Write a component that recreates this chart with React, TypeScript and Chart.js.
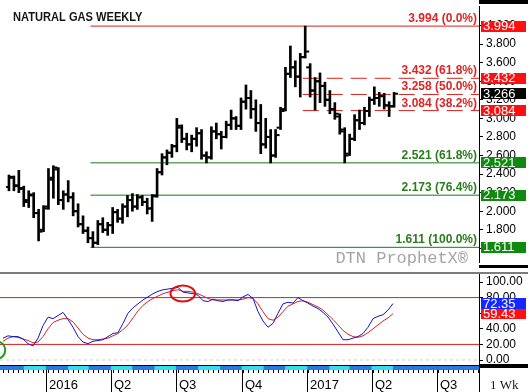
import React, { useEffect, useRef } from "react";
import { Chart, registerables } from "chart.js";

Chart.register(...registerables);
Chart.defaults.font.family = '"Liberation Sans", Arial, sans-serif';

// ---------- time axis: days counted from 1 Jan 2016, one bar per week ----------
const FIRST_BAR_DAY = -60; // week of 2 Nov 2015
const X_MIN = -64.2;
const X_MAX = 606.4;
const quarterDays = [0, 91, 182, 274, 366, 456, 547];
const quarterLabels = ["2016", "Q2", "Q3", "Q4", "2017", "Q2", "Q3"];
const evenMonthStart = [-31, 31, 91, 152, 213, 274, 335, 397, 456];
const evenMonthEnd = [0, 60, 121, 182, 244, 305, 366, 425, 486];

// ---------- weekly OHLC, Nov 2015 .. Apr 2017 ----------
const opens = [
  2.26, 2.36, 2.28, 2.24, 2.12, 2.17, 1.98, 1.8, 2.05,
  2.36, 2.45, 2.12, 2.18, 2.15, 2.0, 1.86, 1.79, 1.71, 1.66,
  1.86, 1.8, 1.85, 1.99, 1.92, 2.05, 2.12, 2.05, 2.15, 2.1,
  2.03, 2.17, 2.42, 2.58, 2.63, 2.7, 2.9, 2.78, 2.72, 2.78,
  2.84, 2.6, 2.58, 2.86, 2.83, 2.8, 2.93, 3.0, 2.92, 3.18,
  3.22, 3.1, 2.95, 2.72, 2.8, 2.6, 2.9, 3.1, 3.48, 3.55,
  3.45, 3.66, 3.55, 3.3, 3.4, 3.35, 3.2, 3.1, 3.02, 2.86,
  2.62, 2.78, 2.98, 2.95, 3.08, 3.2, 3.22, 3.24, 3.14, 3.13,
];
const highs = [
  2.39, 2.38, 2.44, 2.27, 2.22, 2.2, 2.02, 2.06, 2.46,
  2.49, 2.47, 2.22, 2.33, 2.2, 2.08, 1.95, 1.83, 1.78, 1.9,
  1.93, 1.88, 2.04, 2.02, 2.08, 2.17, 2.19, 2.18, 2.17, 2.14,
  2.18, 2.46, 2.62, 2.66, 2.72, 3.0, 2.93, 2.84, 2.82, 2.9,
  2.88, 2.64, 2.91, 2.95, 2.86, 2.97, 3.09, 3.02, 3.22, 3.36,
  3.3, 3.2, 3.15, 3.0, 2.88, 2.88, 3.12, 3.55, 3.78, 3.62,
  3.7, 3.994, 3.59, 3.44, 3.49, 3.39, 3.3, 3.17, 3.05, 2.9,
  2.83, 3.04, 3.09, 3.12, 3.23, 3.34, 3.28, 3.27, 3.18, 3.28,
];
const lows = [
  2.22, 2.22, 2.2, 2.05, 2.04, 1.93, 1.68, 1.78, 2.02,
  2.14, 2.07, 2.02, 2.1, 1.95, 1.83, 1.76, 1.66, 1.611, 1.64,
  1.77, 1.74, 1.76, 1.88, 1.87, 1.94, 2.0, 2.02, 2.06, 1.97,
  1.89, 2.15, 2.39, 2.5, 2.58, 2.64, 2.74, 2.66, 2.64, 2.7,
  2.56, 2.52, 2.56, 2.78, 2.67, 2.79, 2.88, 2.88, 2.88, 3.1,
  3.0, 2.86, 2.62, 2.68, 2.52, 2.58, 2.88, 3.08, 3.44, 3.34,
  3.23, 3.65, 3.23, 3.09, 3.17, 3.13, 3.05, 2.99, 2.83, 2.52,
  2.6, 2.76, 2.88, 2.93, 3.02, 3.15, 3.13, 3.1, 3.02, 3.12,
];
const closes = [
  2.37, 2.27, 2.25, 2.1, 2.18, 1.98, 1.78, 2.03, 2.34,
  2.47, 2.12, 2.18, 2.15, 2.0, 1.86, 1.79, 1.71, 1.66, 1.86,
  1.8, 1.85, 1.99, 1.92, 2.05, 2.12, 2.05, 2.15, 2.1, 2.03,
  2.16, 2.42, 2.58, 2.63, 2.7, 2.92, 2.78, 2.72, 2.78, 2.84,
  2.6, 2.58, 2.86, 2.83, 2.8, 2.93, 3.0, 2.92, 3.18, 3.22,
  3.1, 2.95, 2.72, 2.8, 2.6, 2.82, 3.08, 3.48, 3.55, 3.45,
  3.66, 3.72, 3.3, 3.4, 3.35, 3.2, 3.1, 3.05, 2.88, 2.6,
  2.78, 2.98, 2.95, 3.08, 3.2, 3.22, 3.24, 3.14, 3.13, 3.266,
];

// ---------- slow stochastics ----------
const stochK = [
  28, 31, 30, 30, 27, 21, 18, 28, 44,
  55, 53, 57, 61, 52, 42, 30, 23, 21, 24,
  25, 26, 30, 34, 35, 47, 60, 67, 72, 77,
  81, 85, 88, 90, 91, 92, 93, 87, 86, 85,
  83, 76, 75, 78, 76, 75, 77, 77, 76, 81,
  84, 79, 62, 50, 42, 47, 60, 72, 74, 73,
  80, 76, 73, 69, 66, 61, 55, 46, 36, 26,
  26, 28, 30, 34, 42, 53, 56, 58, 64, 72.35,
];
const stochD = [
  24, 28, 30, 29, 27, 25, 22, 23, 30,
  40, 48, 51, 53, 53, 49, 41, 33, 28, 26,
  26, 27, 28, 31, 34, 39, 45, 54, 63, 70,
  75, 79, 82, 85, 87, 89, 90, 88, 88, 87,
  85, 82, 79, 77, 77, 77, 77, 77, 77, 78,
  80, 79, 72, 62, 53, 51, 55, 62, 69, 72,
  75, 76, 74, 71, 68, 64, 58, 52, 45, 38,
  33, 30, 29, 31, 35, 40, 45, 50, 54, 59.43,
];

// ---------- axes ----------
const PRICE_MIN = 1.4529;
const PRICE_MAX = 4.2108;
const priceTicks = [1.6, 1.8, 2.0, 2.2, 2.4, 2.6, 2.8, 3.0, 3.2, 3.4, 3.6, 3.8, 4.0];
const OSC_MIN = -6.41;
const OSC_MAX = 110.26;
const oscTicks = [0, 20, 40, 60, 80, 100];
const oscLevels = [80, 20];

// ---------- Fibonacci retracements ----------
const fibLevels = [3.994, 3.432, 3.258, 3.084, 2.521, 2.173, 1.611];
const fibPercents = ["0.0%", "61.8%", "50.0%", "38.2%", "61.8%", "76.4%", "100.0%"];
const fibStartBar = [17, 60, 60, 60, 17, 17, 17];
const fibDashed = [false, true, true, true, false, false, false];
const fibIsHigh = [true, true, true, true, false, false, false];
const fibHasBox = [true, true, false, true, true, true, true];

// ---------- annotation ellipses on the oscillator ----------
const circleDay = [191.7, -69];
const circleVal = [85.3, 12.8];
const circleRxDays = [17.3, 12.2];
const circleRyVal = [10.3, 11.2];
const circleIsRed = [true, false];

const barDays = opens.map((_, i) => FIRST_BAR_DAY + 7 * i);

const W = 528;
const AXIS_W = 49;
const RED = "#d42020";
const RED_TEXT = "#e02424";
const GREEN = "#177a17";
const GREEN_TEXT = "#2a7d1c";
const RED_BOX = "#ff1010";
const GREEN_BOX = "#0f8a0f";
const BLUE_BOX = "#1428ff";
const TICK_SHIFT = 3.5; // open/close tick offset from the bar, days

function drawBox(ctx: CanvasRenderingContext2D, left: number, cy: number, text: string, bg: string) {
  ctx.fillStyle = bg;
  ctx.fillRect(left + 2, Math.round(cy - 5.5), 45, 11);
  ctx.fillStyle = "#fff";
  ctx.font = '13px "Liberation Sans", Arial, sans-serif';
  ctx.textAlign = "left";
  ctx.textBaseline = "middle";
  ctx.fillText(text, left + 4, cy + 0.5);
}

const priceDecor = {
  id: "priceDecor",
  afterDraw(chart: any) {
    const { ctx, chartArea: a, scales } = chart;
    const y = scales.y;
    ctx.save();
    ctx.font = 'bold 12.5px "Liberation Sans", Arial, sans-serif';
    ctx.fillStyle = "#151515";
    ctx.textAlign = "left";
    ctx.textBaseline = "alphabetic";
    const title = "NATURAL GAS WEEKLY";
    const tw = ctx.measureText(title).width;
    ctx.save();
    ctx.translate(13, 21);
    ctx.scale(129.5 / tw, 1);
    ctx.fillText(title, 0, 0);
    ctx.restore();

    ctx.font = 'bold 12px "Liberation Sans", Arial, sans-serif';
    ctx.textAlign = "right";
    fibLevels.forEach((lv, i) => {
      const py = y.getPixelForValue(lv);
      ctx.fillStyle = fibIsHigh[i] ? RED_TEXT : GREEN_TEXT;
      ctx.fillText(`${lv.toFixed(3)} (${fibPercents[i]})`, a.right - 2, py - 4);
    });

    ctx.font = '17px "Liberation Mono", "Courier New", monospace';
    ctx.fillStyle = "#a4a4a4";
    ctx.textAlign = "right";
    ctx.fillText("DTN ProphetX\u00AE", a.right - 11, 263);

    fibLevels.forEach((lv, i) => {
      if (!fibHasBox[i]) return;
      drawBox(ctx, a.right, y.getPixelForValue(lv), lv.toFixed(3), fibIsHigh[i] ? RED_BOX : GREEN_BOX);
    });
    const last = closes[closes.length - 1];
    drawBox(ctx, a.right, y.getPixelForValue(last), last.toFixed(3), "#000");

    ctx.fillStyle = "#000";
    ctx.fillRect(a.right, 0, W - a.right, 4);
    ctx.fillRect(a.right, 265, W - a.right, 3);
    ctx.restore();
  },
};

const oscDecor = {
  id: "oscDecor",
  afterDraw(chart: any) {
    const { ctx, chartArea: a, scales } = chart;
    const x = scales.x;
    const y = scales.y;
    ctx.save();
    ctx.fillStyle = "#7c7c7c";
    ctx.fillRect(0, 4, W, 2);

    ctx.save();
    ctx.beginPath();
    ctx.rect(a.left, a.top, a.right - a.left, a.bottom - a.top);
    ctx.clip();
    circleDay.forEach((d, i) => {
      const cx = x.getPixelForValue(d);
      const cy = y.getPixelForValue(circleVal[i]);
      const rx = Math.abs(x.getPixelForValue(d + circleRxDays[i]) - cx);
      const ry = Math.abs(y.getPixelForValue(circleVal[i] + circleRyVal[i]) - cy);
      ctx.beginPath();
      ctx.ellipse(cx, cy, rx, ry, 0, 0, Math.PI * 2);
      ctx.strokeStyle = circleIsRed[i] ? "#e01010" : "#16a016";
      ctx.lineWidth = 2;
      ctx.stroke();
    });
    ctx.restore();

    const bandTop = a.bottom + 1;
    ctx.fillStyle = "#000";
    ctx.fillRect(a.left, a.bottom, a.right - a.left, 1);
    ctx.fillStyle = "#2a78e4";
    ctx.fillRect(a.left, bandTop, a.right - a.left, 4);
    ctx.fillStyle = "#2ee0f2";
    evenMonthStart.forEach((s, i) => {
      const x0 = x.getPixelForValue(s);
      const x1 = x.getPixelForValue(evenMonthEnd[i]);
      ctx.fillRect(x0, bandTop, x1 - x0, 4);
    });

    ctx.fillStyle = "#000";
    for (let d = FIRST_BAR_DAY; d <= X_MAX; d += 7) {
      const px = Math.round(x.getPixelForValue(d));
      ctx.fillRect(px, bandTop + 4, 1, 3);
    }
    ctx.font = '13px "Liberation Sans", Arial, sans-serif';
    ctx.textAlign = "left";
    ctx.textBaseline = "alphabetic";
    quarterDays.forEach((d, i) => {
      const px = Math.round(x.getPixelForValue(d));
      ctx.fillRect(px, bandTop + 4, 1, 124 - bandTop - 4);
      ctx.fillText(quarterLabels[i], px + 3, 121);
    });

    ctx.fillRect(a.right, a.bottom - 1, W - a.right, 4);
    ctx.fillRect(a.right, a.bottom, 1, 124 - a.bottom);
    ctx.font = '13px "Liberation Serif", "Times New Roman", serif';
    ctx.fillStyle = "#1a1a1a";
    ctx.fillText("1 Wk", a.right + 11, 121);

    const lastD = stochD[stochD.length - 1];
    const lastK = stochK[stochK.length - 1];
    drawBox(ctx, a.right, y.getPixelForValue(lastD), lastD.toFixed(2), RED_BOX);
    drawBox(ctx, a.right, y.getPixelForValue(lastK), lastK.toFixed(2), BLUE_BOX);
    ctx.restore();
  },
};

function yAxis(min: number, max: number, ticks: number[], digits: number) {
  return {
    type: "linear" as const,
    position: "right" as const,
    min,
    max,
    afterBuildTicks: (s: any) => {
      s.ticks = ticks.map((v) => ({ value: v }));
    },
    afterFit: (s: any) => {
      s.width = AXIS_W;
      s.paddingTop = 0;
      s.paddingBottom = 0;
    },
    ticks: {
      autoSkip: false,
      color: "#000",
      padding: 3,
      font: { size: 12 },
      callback: (v: any) => Number(v).toFixed(digits),
    },
    grid: { drawOnChartArea: false, drawTicks: true, tickLength: 4, color: "#000" },
    border: { display: true, color: "#000", width: 1 },
  };
}

export default function App() {
  const priceRef = useRef<HTMLCanvasElement>(null);
  const oscRef = useRef<HTMLCanvasElement>(null);

  useEffect(() => {
    const fibDatasets = fibLevels.map((lv, i) => ({
      type: "line" as const,
      data: [
        { x: barDays[fibStartBar[i]] - TICK_SHIFT, y: lv },
        { x: X_MAX, y: lv },
      ],
      borderColor: fibIsHigh[i] ? RED : GREEN,
      borderWidth: 1,
      borderDash: fibDashed[i] ? [16, 8] : [],
      pointRadius: 0,
      tension: 0,
    }));

    const tickSet = (values: number[], shift: number) => ({
      type: "line",
      data: barDays.map((d, i) => ({ x: d + shift, y: values[i] })),
      showLine: false,
      pointStyle: "line",
      pointRadius: 1.5,
      pointBorderWidth: 2,
      pointBorderColor: "#000",
      pointBackgroundColor: "#000",
    });

    const price = new Chart(priceRef.current as HTMLCanvasElement, {
      type: "bar",
      data: {
        datasets: [
          tickSet(opens, -TICK_SHIFT),
          tickSet(closes, TICK_SHIFT),
          {
            type: "bar",
            data: barDays.map((d, i) => ({ x: d, y: [lows[i], highs[i]] })),
            backgroundColor: "#000",
            borderWidth: 0,
            barThickness: 2,
          },
          ...fibDatasets,
        ] as any,
      },
      options: {
        responsive: false,
        devicePixelRatio: 1,
        animation: false,
        events: [],
        layout: { padding: { top: 4, bottom: 2, left: 0, right: 0 } },
        plugins: { legend: { display: false }, tooltip: { enabled: false } },
        scales: {
          x: { type: "linear", display: false, min: X_MIN, max: X_MAX, offset: false },
          y: yAxis(PRICE_MIN, PRICE_MAX, priceTicks, 3),
        } as any,
      },
      plugins: [priceDecor],
    });

    const levelSets = oscLevels.map((lv) => ({
      data: [
        { x: X_MIN, y: lv },
        { x: X_MAX, y: lv },
      ],
      borderColor: "#d81e1e",
      borderWidth: 1,
      pointRadius: 0,
    }));

    const osc = new Chart(oscRef.current as HTMLCanvasElement, {
      type: "line",
      data: {
        datasets: [
          {
            data: barDays.map((d, i) => ({ x: d, y: stochK[i] })),
            borderColor: "#1414c8",
            borderWidth: 1,
            pointRadius: 0,
            tension: 0,
          },
          {
            data: barDays.map((d, i) => ({ x: d, y: stochD[i] })),
            borderColor: "#d42424",
            borderWidth: 1,
            pointRadius: 0,
            tension: 0,
          },
          ...levelSets,
          {
            data: [
              { x: X_MIN, y: 0 },
              { x: X_MAX, y: 0 },
            ],
            borderColor: "#cfcfcf",
            borderWidth: 1,
            borderDash: [3, 3],
            pointRadius: 0,
          },
        ] as any,
      },
      options: {
        responsive: false,
        devicePixelRatio: 1,
        animation: false,
        events: [],
        layout: { padding: { top: 6, bottom: 27, left: 0, right: 0 } },
        plugins: { legend: { display: false }, tooltip: { enabled: false } },
        scales: {
          x: { type: "linear", display: false, min: X_MIN, max: X_MAX },
          y: yAxis(OSC_MIN, OSC_MAX, oscTicks, 2),
        } as any,
      },
      plugins: [oscDecor],
    });

    return () => {
      price.destroy();
      osc.destroy();
    };
  }, []);

  return (
    <div style={{ position: "absolute", left: 0, top: 0, width: W, height: 392, background: "#fff" }}>
      <canvas ref={priceRef} width={W} height={268} style={{ display: "block", width: W, height: 268 }} />
      <canvas ref={oscRef} width={W} height={124} style={{ display: "block", width: W, height: 124 }} />
    </div>
  );
}
